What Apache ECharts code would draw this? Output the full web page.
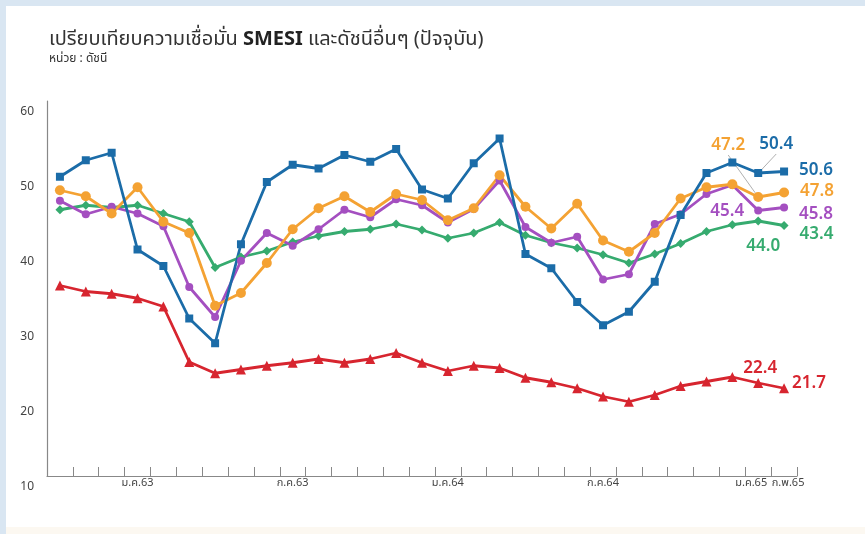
<!DOCTYPE html>
<html>
<head>
<meta charset="utf-8">
<script src="https://cdn.jsdelivr.net/npm/echarts@6/dist/echarts.min.js"></script>
<style>
html,body{margin:0;padding:0;background:#fff;}
#c{width:865px;height:534px;}
</style>
</head>
<body>
<div id="c"></div>
<script>
// ---- data ----
const months = ['ต.ค.62','พ.ย.62','ธ.ค.62','ม.ค.63','ก.พ.63','มี.ค.63','เม.ย.63','พ.ค.63','มิ.ย.63','ก.ค.63','ส.ค.63','ก.ย.63',
  'ต.ค.63','พ.ย.63','ธ.ค.63','ม.ค.64','ก.พ.64','มี.ค.64','เม.ย.64','พ.ค.64','มิ.ย.64','ก.ค.64','ส.ค.64','ก.ย.64',
  'ต.ค.64','พ.ย.64','ธ.ค.64','ม.ค.65','ก.พ.65'];
const shownLabels = ['ม.ค.63','ก.ค.63','ม.ค.64','ก.ค.64','ม.ค.65','ก.พ.65'];
const yTicks = [10,20,30,40,50,60];

const seriesBlue   = [49.9,52.1,53.1,40.2,38.0,31.0,27.7,40.9,49.2,51.5,51.0,52.8,51.9,53.6,48.2,47.0,51.7,55.0,39.6,37.7,33.2,30.1,31.9,35.9,44.8,50.4,51.8,50.4,50.6];
const seriesOrange = [48.1,47.3,45.0,48.5,43.9,42.4,32.7,34.4,38.4,42.9,45.7,47.3,45.2,47.6,46.8,44.1,45.7,50.1,45.9,43.0,46.3,41.4,39.9,42.4,47.0,48.5,48.9,47.2,47.8];
const seriesPurple = [46.7,44.9,45.9,45.0,43.3,35.2,31.2,38.7,42.4,40.7,42.9,45.5,44.5,46.9,46.1,43.8,45.6,49.4,43.2,41.1,41.9,36.2,36.9,43.6,44.9,47.6,48.8,45.4,45.8];
const seriesGreen  = [45.5,46.1,45.8,46.1,45.0,43.9,37.8,39.2,40.0,41.2,42.0,42.6,42.9,43.6,42.8,41.7,42.4,43.8,42.1,41.1,40.4,39.5,38.4,39.6,41.0,42.6,43.5,44.0,43.4];
const seriesRed    = [35.4,34.6,34.3,33.7,32.6,25.2,23.7,24.2,24.7,25.1,25.6,25.1,25.6,26.4,25.1,24.0,24.7,24.4,23.1,22.5,21.7,20.6,19.9,20.8,22.0,22.6,23.2,22.4,21.7];

// ---- chart ----
const FONT = "'Noto Sans Thai','Noto Sans',sans-serif";
const chart = echarts.init(document.getElementById('c'), null, {renderer:'canvas'});

function mk(name, values, color, symbol, size, lastLbl, prevLbl, layout) {
  const n = values.length;
  return {
    name: name, type: 'line', data: values.map((v, i) => {
      if (i === n - 1) return {value: v, label: Object.assign({show: true}, lastLbl), labelLine: {show: false}};
      if (i === n - 2) return {value: v, label: Object.assign({show: true}, prevLbl), labelLine: {show: !!layout}};
      return v;
    }),
    symbol: symbol, symbolSize: size, showSymbol: true,
    lineStyle: {color: color, width: 2.8},
    itemStyle: {color: color},
    label: {show: false, color: color, fontSize: 17, fontWeight: 600, fontFamily: FONT,
      formatter: p => p.value.toFixed(1)},
    labelLine: {show: !!layout, lineStyle: {color: '#9a9a9a', width: 0.8}},
    labelLayout: layout || null,
    z: 3
  };
}

const option = {
  backgroundColor: '#ffffff',
  animation: false,
  textStyle: {fontFamily: FONT},
  graphic: [
    {type: 'rect', shape: {x: 0, y: 0, width: 865, height: 6}, style: {fill: '#d9e6f2'}, silent: true},
    {type: 'rect', shape: {x: 0, y: 0, width: 6, height: 534}, style: {fill: '#d9e6f2'}, silent: true},
    {type: 'rect', shape: {x: 6, y: 527, width: 859, height: 7}, style: {fill: '#fcf8f1'}, silent: true}
  ],
  title: {
    left: 44, top: 26,
    text: '{a|เปรียบเทียบความเชื่อมั่น }{b|SMESI}{a| และดัชนีอื่นๆ (ปัจจุบัน)}',
    textStyle: {rich: {
      a: {fontSize: 20, color: '#333', fontFamily: FONT, fontWeight: 400},
      b: {fontSize: 20, color: '#222', fontFamily: FONT, fontWeight: 700}
    }},
    subtext: 'หน่วย : ดัชนี',
    subtextStyle: {fontSize: 12, color: '#333', fontFamily: FONT},
    itemGap: 3
  },
  grid: {left: 47, right: 68, top: 101, bottom: 58},
  xAxis: {
    type: 'category', data: months, boundaryGap: true,
    axisLine: {lineStyle: {color: '#888', width: 1.2}},
    axisTick: {show: true, inside: true, length: 9, interval: 0, lineStyle: {color: '#888'}},
    axisLabel: {interval: 0, fontSize: 11, color: '#444', margin: 2, fontFamily: FONT,
      formatter: (v, i) => {
        if (shownLabels.indexOf(v) < 0) return '';
        if (v === 'ม.ค.65') return '{l|' + v + '}';
        if (v === 'ก.พ.65') return '{r|' + v + '}';
        return v;
      },
      rich: {l: {fontSize: 11, color: '#444', padding: [0, 14, 0, 0]}, r: {fontSize: 11, color: '#444', padding: [0, 0, 0, 8]}}
    },
    splitLine: {show: false}
  },
  yAxis: {
    type: 'value', min: yTicks[0], max: yTicks[yTicks.length - 1], interval: 10,
    axisLine: {show: true, lineStyle: {color: '#888', width: 1.2}},
    axisTick: {show: false},
    splitLine: {show: false},
    axisLabel: {fontSize: 12, color: '#444', margin: 13, verticalAlign: 'top', padding: [6, 0, 0, 0], fontFamily: FONT}
  },
  series: [
    mk('ดัชนีสีเขียว', seriesGreen, '#36ab6f', 'diamond', 9,
      {position: 'right', distance: 11, offset: [0, 10]},
      {position: 'bottom', distance: 10, offset: [5, 4]}),
    mk('ดัชนีสีแดง', seriesRed, '#d7252f', 'triangle', 10,
      {position: 'right', distance: 3, offset: [0, -4]},
      {position: 'top', distance: 5, offset: [2, 5]}),
    mk('ดัชนีสีม่วง', seriesPurple, '#a44fc0', 'circle', 8,
      {position: 'right', distance: 11, offset: [0, 8]},
      {position: 'left', distance: 10, offset: [0, 2]}),
    mk('ดัชนีสีส้ม', seriesOrange, '#f4a233', 'circle', 10,
      {position: 'right', distance: 11, offset: [0, 4]},
      {position: 'top', distance: 5},
      p => p.dataIndex === 27 ? {dx: -30, dy: -32} : {}),
    mk('SMESI', seriesBlue, '#1b6ca8', 'rect', 8,
      {position: 'right', distance: 11, offset: [0, 4]},
      {position: 'top', distance: 5},
      p => p.dataIndex === 27 ? {dx: 18, dy: -10} : {})
  ]
};
chart.setOption(option);
</script>
</body>
</html>
